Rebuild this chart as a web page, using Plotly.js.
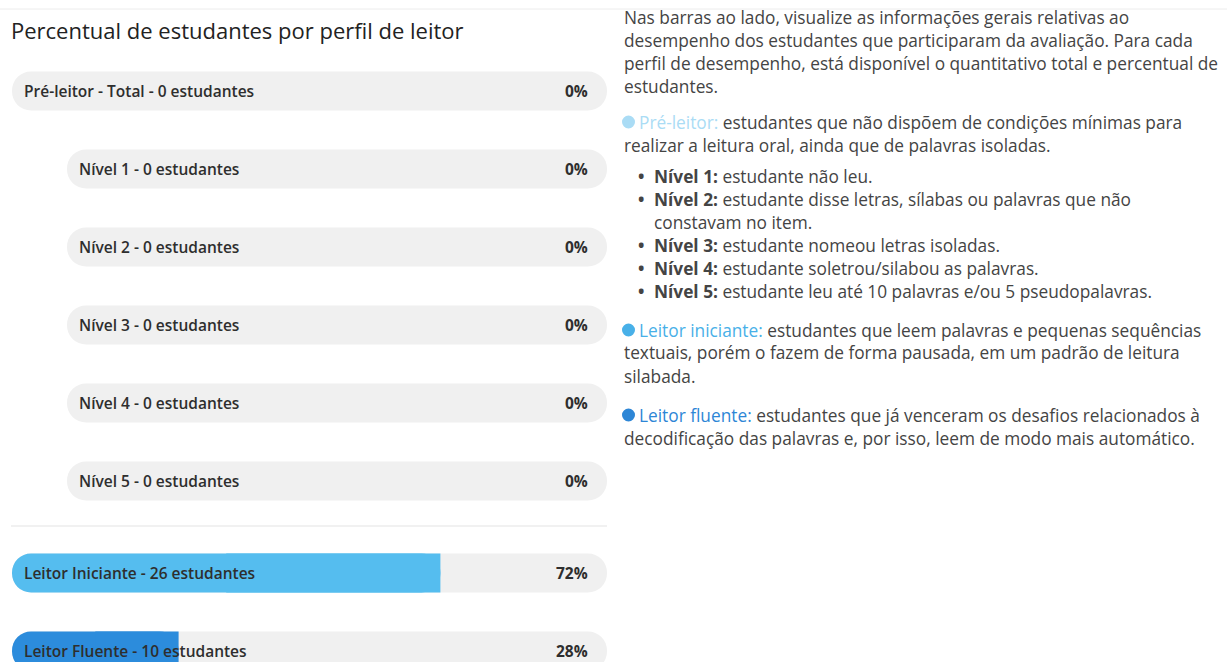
<!DOCTYPE html>
<html>
<head>
<meta charset="utf-8">
<script src="https://cdn.plot.ly/plotly-3.0.1.min.js"></script>
<style>
  html, body { margin: 0; padding: 0; background: #ffffff; }
  #chart { width: 1227px; height: 662px; }
</style>
</head>
<body>
<div id="chart"></div>
<script>
// ---------------- data ----------------
const preName = ['Pré-leitor - Total'];
const preCount = [0];
const prePct = [0];

const nivelNames = ['Nível 1', 'Nível 2', 'Nível 3', 'Nível 4', 'Nível 5'];
const nivelCounts = [0, 0, 0, 0, 0];
const nivelPct = [0, 0, 0, 0, 0];

const leitorNames = ['Leitor Iniciante', 'Leitor Fluente'];
const leitorCounts = [26, 10];
const leitorPct = [72, 28];
const leitorColors = ['#55bdef', '#2c8cdc'];

const chartTitle = 'Percentual de estudantes por perfil de leitor';

// ---------------- helpers ----------------
const W = 1227, H = 662;
const fx = p => p / W;
const fy = p => 1 - p / H;
const FONT = '"Open Sans", Roboto, Lato, sans-serif';
const TRACK = '#f0f0f0';
const BW = 0.5;

const topCats = preName.concat(nivelNames);

function trackTrace(cats, xa, ya) {
  // full 100% track, rounded at both ends
  return { type: 'bar', orientation: 'h', y: cats, x: cats.map(() => 100), base: cats.map(() => 0),
    width: BW, xaxis: xa, yaxis: ya, marker: { color: TRACK, cornerradius: '50%' },
    hoverinfo: 'skip', showlegend: false };
}
function fillTraces(cats, pct, colors, xa, ya) {
  return [
    // rounded pill 0 -> value
    { type: 'bar', orientation: 'h', y: cats, x: pct, base: pct.map(() => 0),
      width: BW, xaxis: xa, yaxis: ya, marker: { color: colors, cornerradius: '50%' },
      hoverinfo: 'skip', showlegend: false },
    // square end so the fill finishes flat at its value
    { type: 'bar', orientation: 'h', y: cats, x: pct.map(v => v / 2), base: pct.map(v => v / 2),
      width: BW, xaxis: xa, yaxis: ya, marker: { color: colors, cornerradius: 0 },
      hoverinfo: 'skip', showlegend: false }
  ];
}

const traces = []
  .concat([trackTrace(preName, 'x', 'y')])
  .concat(fillTraces(preName, prePct, '#b3e0f7', 'x', 'y'))
  .concat([trackTrace(nivelNames, 'x2', 'y')])
  .concat(fillTraces(nivelNames, nivelPct, '#b3e0f7', 'x2', 'y'))
  .concat([trackTrace(leitorNames, 'x', 'y2')])
  .concat(fillTraces(leitorNames, leitorPct, leitorColors, 'x', 'y2'));

const annotations = [];
function barLabels(names, counts, pct, xref, yref) {
  names.forEach((n, i) => {
    annotations.push({ xref: xref, yref: yref, x: 0, y: n, xanchor: 'left', yanchor: 'middle',
      xshift: 10, showarrow: false, text: n + ' - ' + counts[i] + ' estudantes',
      font: { family: FONT, size: 15.5, color: '#2e2e2e', weight: 600 } });
    annotations.push({ xref: xref, yref: yref, x: 100, y: n, xanchor: 'right', yanchor: 'middle',
      xshift: -17, showarrow: false, text: '<b>' + pct[i] + '%</b>',
      font: { family: FONT, size: 15.5, color: '#2e2e2e' } });
  });
}
barLabels(preName, preCount, prePct, 'x', 'y');
barLabels(nivelNames, nivelCounts, nivelPct, 'x2', 'y');
barLabels(leitorNames, leitorCounts, leitorPct, 'x', 'y2');

// ---------------- right-hand description text ----------------
const cPre = '#aadcf5', cIni = '#48b0e8', cFlu = '#2d86d6';
const TX = 622, TXI = 637, TXB = 652;
const textLines = [
  [TX, 18, 'Nas barras ao lado, visualize as informações gerais relativas ao'],
  [TX, 41, 'desempenho dos estudantes que participaram da avaliação. Para cada'],
  [TX, 64, 'perfil de desempenho, está disponível o quantitativo total e percentual de'],
  [TX, 87, 'estudantes.'],
  [TXI, 122, '<span style="color:' + cPre + '">Pré-leitor:</span> estudantes que não dispõem de condições mínimas para'],
  [TX, 145, 'realizar a leitura oral, ainda que de palavras isoladas.'],
  [TXB, 176, '<b>Nível 1:</b> estudante não leu.'],
  [TXB, 199, '<b>Nível 2:</b> estudante disse letras, sílabas ou palavras que não'],
  [TXB, 222, 'constavam no item.'],
  [TXB, 245, '<b>Nível 3:</b> estudante nomeou letras isoladas.'],
  [TXB, 268, '<b>Nível 4:</b> estudante soletrou/silabou as palavras.'],
  [TXB, 291, '<b>Nível 5:</b> estudante leu até 10 palavras e/ou 5 pseudopalavras.'],
  [TXI, 330, '<span style="color:' + cIni + '">Leitor iniciante:</span> estudantes que leem palavras e pequenas sequências'],
  [TX, 353, 'textuais, porém o fazem de forma pausada, em um padrão de leitura'],
  [TX, 376, 'silabada.'],
  [TXI, 415, '<span style="color:' + cFlu + '">Leitor fluente:</span> estudantes que já venceram os desafios relacionados à'],
  [TX, 438, 'decodificação das palavras e, por isso, leem de modo mais automático.']
];
textLines.forEach(l => {
  annotations.push({ xref: 'paper', yref: 'paper', x: fx(l[0]), y: fy(l[1]), xanchor: 'left',
    yanchor: 'middle', showarrow: false, text: l[2], align: 'left',
    font: { family: FONT, size: 17.3, color: '#444444' } });
});
[176, 199, 245, 268, 291].forEach(py => {
  annotations.push({ xref: 'paper', yref: 'paper', x: fx(641), y: fy(py), xanchor: 'center',
    yanchor: 'middle', showarrow: false, text: '<b>•</b>', font: { family: FONT, size: 17, color: '#444444' } });
});

const shapes = [
  { type: 'line', xref: 'paper', yref: 'paper', x0: 0, x1: 1, y0: fy(9), y1: fy(9),
    line: { color: '#ececec', width: 1 } },
  { type: 'line', xref: 'paper', yref: 'paper', x0: fx(11), x1: fx(607), y0: fy(526), y1: fy(526),
    line: { color: '#e3e3e3', width: 1 } }
];
[[122, cPre], [330, cIni], [415, cFlu]].forEach(c => {
  shapes.push({ type: 'circle', xref: 'paper', yref: 'paper', x0: fx(622), x1: fx(635),
    y0: fy(c[0] + 6.5), y1: fy(c[0] - 6.5), fillcolor: c[1], line: { width: 0 } });
});

const hidden = { visible: false, fixedrange: true };
const layout = {
  width: W, height: H,
  margin: { l: 0, r: 0, t: 0, b: 0, pad: 0 },
  paper_bgcolor: '#ffffff', plot_bgcolor: 'rgba(0,0,0,0)',
  barmode: 'overlay', showlegend: false,
  font: { family: FONT },
  title: { text: chartTitle, x: fx(11), xref: 'paper', xanchor: 'left', y: fy(31), yref: 'container',
    yanchor: 'middle', font: { family: FONT, size: 22, color: '#222222' } },
  xaxis: Object.assign({ domain: [fx(12), fx(607)], range: [0, 100], anchor: 'y' }, hidden),
  xaxis2: Object.assign({ domain: [fx(67), fx(607)], range: [0, 100], anchor: 'y' }, hidden),
  yaxis: Object.assign({ domain: [fy(520), fy(52)], type: 'category', categoryorder: 'array',
    categoryarray: topCats, range: [topCats.length - 0.5, -0.5], anchor: 'x' }, hidden),
  yaxis2: Object.assign({ domain: [0, fy(534)], type: 'category', categoryorder: 'array',
    categoryarray: leitorNames, range: [-0.5 + (662 - 534) / 78, -0.5], anchor: 'x' }, hidden),
  annotations: annotations,
  shapes: shapes
};

Plotly.newPlot('chart', traces, layout, { staticPlot: true, displayModeBar: false });
</script>
</body>
</html>
